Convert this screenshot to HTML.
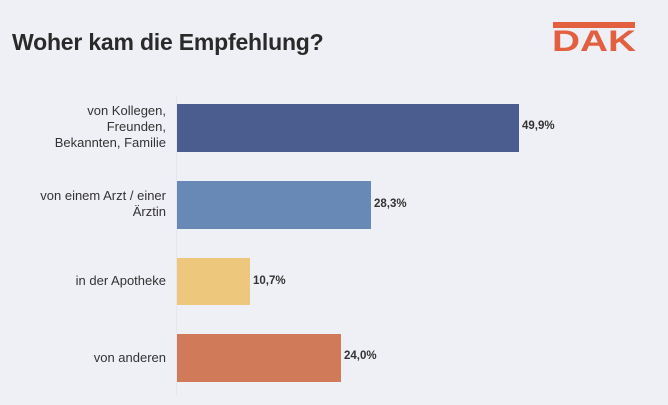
<!DOCTYPE html>
<html><head><meta charset="utf-8"><style>
body{margin:0;width:668px;height:405px;background:#efeff6;font-family:"Liberation Sans",sans-serif;position:relative;overflow:hidden}
.t{position:absolute;left:12px;top:29px;font-size:23px;font-weight:bold;color:#2a2a2a;letter-spacing:-0.2px}
.bar{position:absolute;left:177px}
.lab{position:absolute;right:502px;text-align:right;font-size:13px;color:#333;line-height:16px}
.val{position:absolute;font-size:11.5px;font-weight:bold;color:#333}
</style></head><body>
<div class="t">Woher kam die Empfehlung?</div>
<svg style="position:absolute;left:550px;top:20px" width="90" height="34">
<rect x="3" y="2" width="82" height="6" fill="#e2603f"/>
<text x="2" y="31" font-family="Liberation Sans" font-weight="bold" font-size="30" fill="#e2603f" textLength="84" lengthAdjust="spacingAndGlyphs">DAK</text>
</svg>
<div style="position:absolute;left:176px;top:96px;width:1px;height:300px;background:#e6e6ee"></div>
<div class="bar" style="top:104px;width:342px;height:48px;background:#4a5d8e"></div>
<div class="bar" style="top:181px;width:194px;height:48px;background:#6889b6"></div>
<div class="bar" style="top:258px;width:73px;height:47px;background:#ecc77c"></div>
<div class="bar" style="top:334px;width:164px;height:48px;background:#d17a5a"></div>
<div class="lab" style="top:103px">von Kollegen,<br>Freunden,<br>Bekannten, Familie</div>
<div class="lab" style="top:188px">von einem Arzt / einer<br>Ärztin</div>
<div class="lab" style="top:273px">in der Apotheke</div>
<div class="lab" style="top:350px">von anderen</div>
<div class="val" style="left:522px;top:120px">49,9%</div>
<div class="val" style="left:374px;top:198px">28,3%</div>
<div class="val" style="left:253px;top:275px">10,7%</div>
<div class="val" style="left:344px;top:350px">24,0%</div>
</body></html>
